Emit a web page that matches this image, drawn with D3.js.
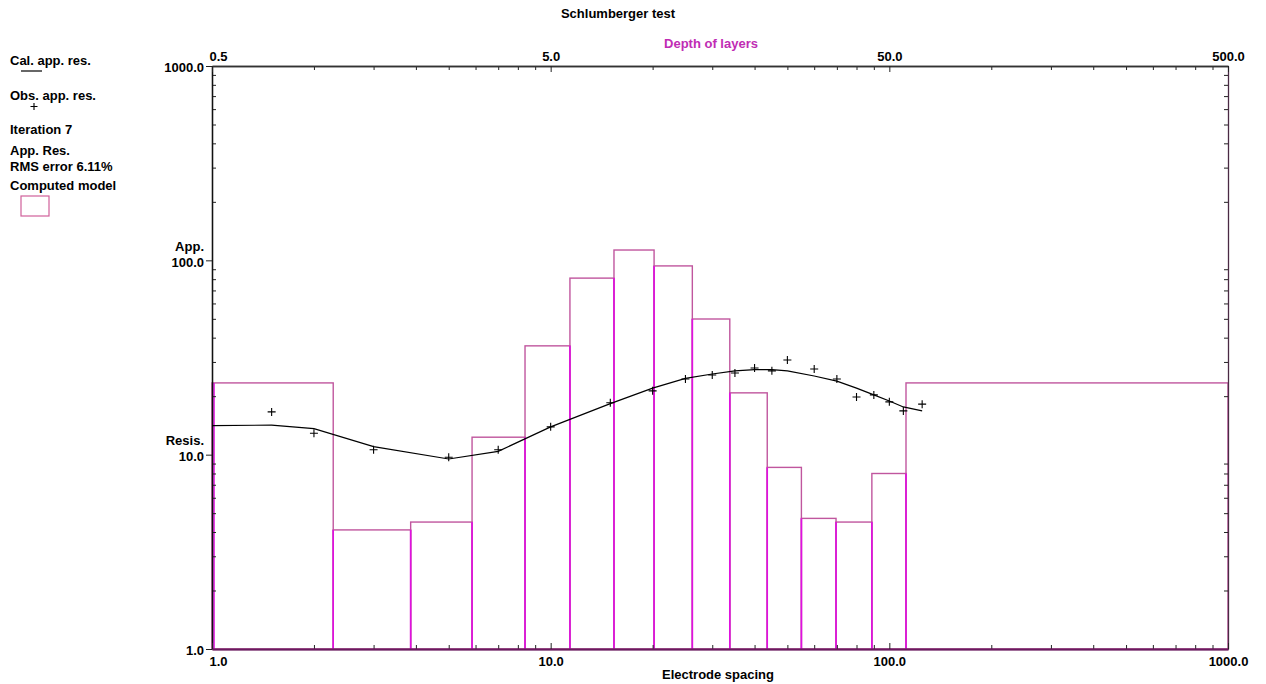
<!DOCTYPE html>
<html>
<head>
<meta charset="utf-8">
<script src="https://cdn.jsdelivr.net/npm/d3@7"></script>
<style>
  html, body { margin: 0; padding: 0; background: #ffffff; }
  svg { display: block; }
  text { font-family: "Liberation Sans", Arial, sans-serif; font-weight: bold; font-size: 13px; fill: #000; }
</style>
</head>
<body>
<svg id="chart" width="1266" height="684"></svg>
<script>
// Layered earth model: bottom depth of each layer (m) and layer resistivity (ohm-m)
const layerBottoms = [1.14, 1.93, 2.93, 4.20, 5.70, 7.69, 10.1, 13.1, 16.9, 21.8, 27.5, 34.8, 44.4, 56.0];
const layerRes = [23.4, 4.1, 4.5, 12.3, 36.3, 81, 113, 93.6, 49.9, 20.8, 8.6, 4.7, 4.5, 8.0, 23.4];

// Field sounding: electrode spacing AB/2 (m) and observed apparent resistivity
const obsSpacing = [1.5, 2, 3, 5, 7, 10, 15, 20, 25, 30, 35, 40, 45, 50, 60, 70, 80, 90, 100, 110, 125];
const obsRes = [16.6, 12.9, 10.6, 9.7, 10.6, 13.9, 18.5, 21.3, 24.5, 25.7, 26.3, 27.9, 27.0, 30.7, 27.6, 24.5, 19.8, 20.3, 18.7, 16.8, 18.2];

// Apparent resistivity computed from the model
const calSpacing = [1, 1.5, 2, 3, 5, 7, 10, 15, 20, 25, 30, 35, 40, 45, 50, 60, 70, 80, 90, 100, 110, 125];
const calRes = [14.1, 14.2, 13.6, 11.0, 9.5, 10.4, 13.9, 18.3, 22.0, 24.7, 26.0, 27.0, 27.4, 27.4, 27.0, 25.4, 23.9, 22.0, 20.3, 18.9, 17.6, 16.8];

// Axis ticks
const spacingMajor = [1, 10, 100, 1000];
const depthMajor = [0.5, 5, 50, 500];
const resMajor = [1, 10, 100, 1000];

const legendLines = ["Iteration 7", "App. Res.", "RMS error 6.11%", "Computed model"];

const svg = d3.select("#chart");
const plotL = 212, plotR = 1228, plotT = 66, plotB = 649;

const x = d3.scaleLog().domain([1, 1000]).range([plotL, plotR]);
const xDepth = d3.scaleLog().domain([0.5, 500]).range([plotL, plotR]);
const y = d3.scaleLog().domain([1, 1000]).range([plotB, plotT]);

const minorOf = (majors, factor) => {
  const out = [];
  majors.slice(0, -1).forEach(m => {
    for (let k = 2; k <= 9; k++) out.push(m * k * factor);
  });
  return out;
};
const spacingMinor = minorOf(spacingMajor, 1);
const depthMinor = minorOf([1, 10, 100, 1000], 0.5);
const resMinor = minorOf(resMajor, 1);

const fmt = d3.format(".1f");
const modelColor = "#c0569e";
const edgeColor = "#e010e0";
const labelPurple = "#c02cb4";

// ---- Layer model boxes ----
const model = svg.append("g");
const depthEdges = [xDepth.domain()[0], ...layerBottoms, xDepth.domain()[1]];
layerRes.forEach((r, i) => {
  const x0 = xDepth(depthEdges[i]), x1 = xDepth(depthEdges[i + 1]);
  model.append("rect")
    .attr("x", x0).attr("y", y(r))
    .attr("width", x1 - x0).attr("height", y(1) - y(r))
    .attr("fill", "none").attr("stroke", modelColor).attr("stroke-width", 1.4);
});
// Layer boundaries: vertical part shared by both neighbours
layerBottoms.forEach((d, i) => {
  const r = Math.min(layerRes[i], layerRes[i + 1]);
  model.append("line")
    .attr("x1", xDepth(d)).attr("x2", xDepth(d))
    .attr("y1", y(1)).attr("y2", y(r))
    .attr("stroke", edgeColor).attr("stroke-width", 1.6);
});
model.append("line")
  .attr("x1", xDepth(depthEdges[0]) + 2).attr("x2", xDepth(depthEdges[0]) + 2)
  .attr("y1", y(1)).attr("y2", y(layerRes[0]))
  .attr("stroke", edgeColor).attr("stroke-width", 1.6);

// ---- Axes ----
const axisStyle = (g, color) => {
  g.selectAll(".domain").attr("stroke", color).attr("stroke-width", 1.3);
  g.selectAll(".tick line").attr("stroke", "#222").attr("stroke-width", 1);
  g.selectAll(".tick text").style("font-family", "Liberation Sans, Arial, sans-serif")
    .style("font-weight", "bold").style("font-size", "13px");
};

// Left (resistivity)
const gLeftMinor = svg.append("g").attr("transform", `translate(${plotL},0)`)
  .call(d3.axisLeft(y).tickValues(resMinor).tickSize(-4).tickSizeOuter(0).tickFormat(""));
axisStyle(gLeftMinor, "#111");
const gLeft = svg.append("g").attr("transform", `translate(${plotL},0)`)
  .call(d3.axisLeft(y).tickValues(resMajor).tickSize(6).tickSizeOuter(0).tickPadding(2).tickFormat(fmt));
axisStyle(gLeft, "#111");
gLeft.selectAll(".tick text").attr("dy", "0.45em").attr("fill", "#000");

// Right
const gRight = svg.append("g").attr("transform", `translate(${plotR},0)`)
  .call(d3.axisRight(y).tickValues(resMinor).tickSize(-4).tickSizeOuter(0).tickFormat(""));
axisStyle(gRight, "#4a2a44");

// Bottom (electrode spacing)
const gBottomMinor = svg.append("g").attr("transform", `translate(0,${plotB})`)
  .call(d3.axisBottom(x).tickValues(spacingMinor).tickSize(-4).tickSizeOuter(0).tickFormat(""));
axisStyle(gBottomMinor, "#6a1a5e");
const gBottom = svg.append("g").attr("transform", `translate(0,${plotB})`)
  .call(d3.axisBottom(x).tickValues(spacingMajor).tickSize(-6).tickSizeOuter(0).tickPadding(8).tickFormat(fmt));
axisStyle(gBottom, "#6a1a5e");
gBottom.selectAll(".domain").attr("stroke-width", 2);
gBottom.selectAll(".tick text").attr("fill", "#000")
  .filter((d, i) => i === 0).attr("text-anchor", "start").attr("x", -3);

// Top (depth of layers)
const gTopMinor = svg.append("g").attr("transform", `translate(0,${plotT})`)
  .call(d3.axisTop(xDepth).tickValues(depthMinor).tickSize(-4).tickSizeOuter(0).tickFormat(""));
axisStyle(gTopMinor, "#333");
const gTop = svg.append("g").attr("transform", `translate(0,${plotT})`)
  .call(d3.axisTop(xDepth).tickValues(depthMajor).tickSize(-6).tickSizeOuter(0).tickPadding(5).tickFormat(fmt));
axisStyle(gTop, "#333");
gTop.selectAll(".tick text").attr("fill", labelPurple)
  .filter((d, i) => i === 0).attr("text-anchor", "start").attr("x", -3).attr("fill", "#d8336c");

// ---- Calculated curve ----
const line = d3.line().x((d, i) => x(calSpacing[i])).y(d => y(d));
svg.append("path").datum(calRes)
  .attr("d", line).attr("fill", "none").attr("stroke", "#000").attr("stroke-width", 1.2);

// ---- Observed points ----
svg.append("g").selectAll("path").data(obsRes).join("path")
  .attr("transform", (d, i) => `translate(${x(obsSpacing[i])},${y(d)})`)
  .attr("d", "M-4,0H4M0,-4V4")
  .attr("stroke", "#000").attr("stroke-width", 1.1).attr("fill", "none");

// ---- Titles ----
svg.append("text").attr("x", 618).attr("y", 18).attr("text-anchor", "middle").text("Schlumberger test");
svg.append("text").attr("x", 711).attr("y", 48).attr("text-anchor", "middle")
  .style("fill", labelPurple).text("Depth of layers");
svg.append("text").attr("x", 718).attr("y", 679).attr("text-anchor", "middle").text("Electrode spacing");
svg.append("text").attr("x", 204).attr("y", 251).attr("text-anchor", "end").text("App.");
svg.append("text").attr("x", 204).attr("y", 445).attr("text-anchor", "end").text("Resis.");

// ---- Legend ----
const legend = svg.append("g");
legend.append("text").attr("x", 10).attr("y", 65).text("Cal. app. res.");
legend.append("line").attr("x1", 21).attr("x2", 42).attr("y1", 71).attr("y2", 71)
  .attr("stroke", "#000").attr("stroke-width", 1.2);
legend.append("text").attr("x", 10).attr("y", 100).text("Obs. app. res.");
legend.append("path").attr("transform", "translate(34,106.5)").attr("d", "M-3.5,0H3.5M0,-3.5V3.5")
  .attr("stroke", "#000").attr("stroke-width", 1.1);
const legendY = [133.5, 155, 170.5, 190];
legendLines.forEach((t, i) => legend.append("text").attr("x", 10).attr("y", legendY[i]).text(t));
legend.append("rect").attr("x", 21).attr("y", 196).attr("width", 28).attr("height", 20)
  .attr("fill", "none").attr("stroke", "#d0609a").attr("stroke-width", 1.2);
</script>
</body>
</html>
